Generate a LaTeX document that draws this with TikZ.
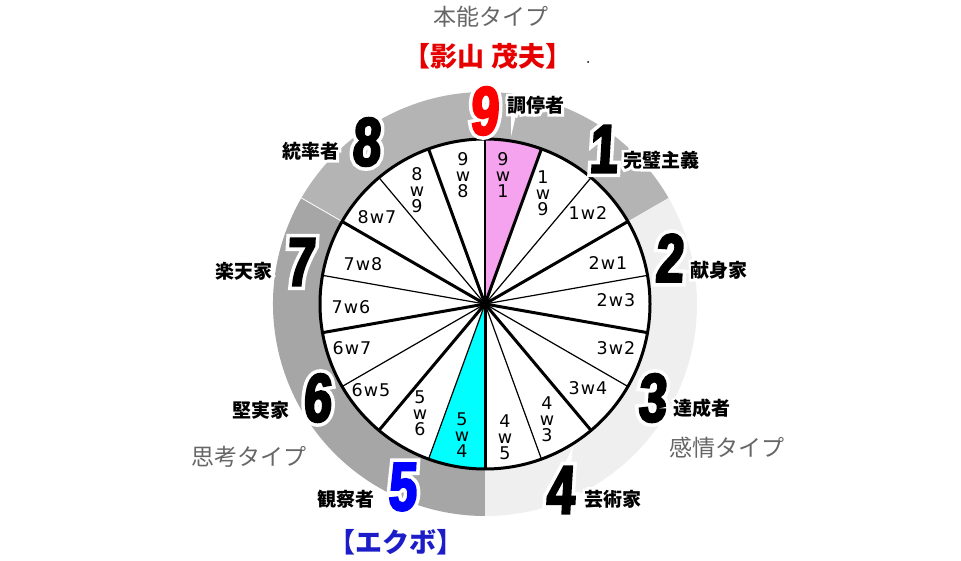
\documentclass[tikz,border=0pt]{standalone}
\usepackage{fontspec}
\usetikzlibrary{calc}
\setmainfont{Noto Sans CJK JP}
\newfontfamily\bignum{Liberation Sans}[FakeSlant=0.06,FakeStretch=0.74,FakeBold=3.5]
\newfontfamily\bignumhalo{Liberation Sans}[FakeSlant=0.06,FakeStretch=0.74,FakeBold=14]
\newfontfamily\jphalo{Noto Sans CJK JP}[FakeBold=28]
\newfontfamily\wfont{DejaVu Sans}[LetterSpace=6]
\definecolor{instc}{HTML}{B4B4B4}
\definecolor{thinkc}{HTML}{A6A6A6}
\definecolor{emoc}{HTML}{EFEFEF}
\definecolor{pinkw}{HTML}{F5A3EE}
\definecolor{cyanw}{HTML}{00FFFF}
\definecolor{typegray}{HTML}{666666}
\definecolor{redname}{HTML}{E60000}
\definecolor{bluename}{HTML}{1C1CC8}
\newcommand\halotext[5]{%
  \node[#4] at (#2) {#5};
  \node[#3] (#1) at (#2) {#5};}
\tikzset{
  bignumstyle/.style={inner sep=0pt,font=\bignum\bfseries\fontsize{68}{68}\selectfont},
  bignumhalostyle/.style={inner sep=0pt,text=white,font=\bignumhalo\bfseries\fontsize{68}{68}\selectfont},
  rolelabel/.style={inner sep=0pt,font=\bfseries\fontsize{19}{19}\selectfont},
  rolehalo/.style={inner sep=0pt,text=white,font=\jphalo\bfseries\fontsize{19}{19}\selectfont},
  typelabel/.style={inner sep=0pt,text=typegray,font=\fontsize{23}{23}\selectfont},
  wlabel/.style={inner sep=0pt,align=center,font=\wfont\fontsize{17.5}{16}\selectfont},
  thickspoke/.style={line width=3pt},
  thinspoke/.style={line width=1.2pt},
}
\begin{document}
\begin{tikzpicture}[x=1pt,y=1pt]
\useasboundingbox (0,0) rectangle (961,560);
\coordinate (O) at (485,256);
% outer ring sectors
\fill[instc] (O) -- ++(30:212pt) arc[start angle=30,end angle=150,radius=212pt] -- cycle;
\fill[thinkc] (O) -- ++(150:212pt) arc[start angle=150,end angle=270,radius=212pt] -- cycle;
\fill[emoc] (O) -- ++(270:212pt) arc[start angle=270,end angle=390,radius=212pt] -- cycle;
\coordinate (sepA) at ($(O)+(150:165pt)$);
\coordinate (sepB) at ($(O)+(150:212pt)$);
\draw[white,line width=0.8pt] (sepA) -- (sepB);
% inner disc
\fill[white] (O) circle[radius=165pt];
\fill[pinkw] (O) -- ++(70:165pt) arc[start angle=70,end angle=90,radius=165pt] -- cycle;
\fill[cyanw] (O) -- ++(250:165pt) arc[start angle=250,end angle=270,radius=165pt] -- cycle;
% spokes
\foreach \a in {70,30,-10,-50,-90,-130,-170,150,110}
  {\draw[thickspoke] (O) -- ++(\a:165pt);}
\foreach \a in {90,50,10,-30,-70,-110,-150,170,130}
  {\draw[thinspoke] (O) -- ++(\a:165pt);}
\draw[line width=3pt] (O) circle[radius=165pt];
% wedge labels
\node[wlabel] (w98) at (463,385) {9\\w\\8};
\node[wlabel] (w91) at (503,385) {9\\w\\1};
\node[wlabel] (w19) at (543,367) {1\\w\\9};
\node[wlabel] (w89) at (417,370) {8\\w\\9};
\node[wlabel] (w87) at (377,343) {8w7};
\node[wlabel] (w12) at (588,347) {1w2};
\node[wlabel] (w78) at (363,296) {7w8};
\node[wlabel] (w21) at (608,297) {2w1};
\node[wlabel] (w76) at (351,253) {7w6};
\node[wlabel] (w23) at (616,260) {2w3};
\node[wlabel] (w67) at (352,212) {6w7};
\node[wlabel] (w32) at (616,212) {3w2};
\node[wlabel] (w65) at (371,170) {6w5};
\node[wlabel] (w34) at (588,172) {3w4};
\node[wlabel] (w56) at (420,147) {5\\w\\6};
\node[wlabel] (w54) at (462,125) {5\\w\\4};
\node[wlabel] (w45) at (505,123) {4\\w\\5};
\node[wlabel] (w43) at (547,141) {4\\w\\3};
% big numbers
\halotext{n9}{484,449}{bignumstyle,text=red}{bignumhalostyle}{9}
\halotext{n1}{603,411}{bignumstyle}{bignumhalostyle}{1}
\halotext{n8}{366,418}{bignumstyle}{bignumhalostyle}{8}
\halotext{n7}{300,298}{bignumstyle}{bignumhalostyle}{7}
\halotext{n2}{669,302}{bignumstyle}{bignumhalostyle}{2}
\halotext{n6}{317,162}{bignumstyle}{bignumhalostyle}{6}
\halotext{n3}{652,162}{bignumstyle}{bignumhalostyle}{3}
\halotext{n5}{402,73}{bignumstyle,text=blue}{bignumhalostyle}{5}
\halotext{n4}{560,70}{bignumstyle}{bignumhalostyle}{4}
% role labels
\halotext{r9}{536,455}{rolelabel}{rolehalo}{調停者}
\halotext{r1}{661,400}{rolelabel}{rolehalo}{完璧主義}
\halotext{r8}{311,409}{rolelabel}{rolehalo}{統率者}
\halotext{r7}{244,289}{rolelabel}{rolehalo}{楽天家}
\halotext{r2}{719,290}{rolelabel}{rolehalo}{献身家}
\halotext{r6}{261,150}{rolelabel}{rolehalo}{堅実家}
\halotext{r3}{702,152}{rolelabel}{rolehalo}{達成者}
\halotext{r5}{346,61}{rolelabel}{rolehalo}{観察者}
\halotext{r4}{613,61}{rolelabel}{rolehalo}{芸術家}
% type labels
\node[typelabel] (tinst) at (491,543) {本能タイプ};
\node[typelabel] (tthink) at (249,103) {思考タイプ};
\node[typelabel] (temo) at (727,112) {感情タイプ};
% names
\node[inner sep=0pt,text=redname,font=\bfseries\fontsize{27}{27}\selectfont] (name1) at (488,504) {【影山 茂夫】};
\node[inner sep=0pt,text=bluename,font=\bfseries\fontsize{27}{27}\selectfont] (name2) at (396,18) {【エクボ】};
\fill (588,498) circle[radius=1pt];
\end{tikzpicture}
\end{document}
